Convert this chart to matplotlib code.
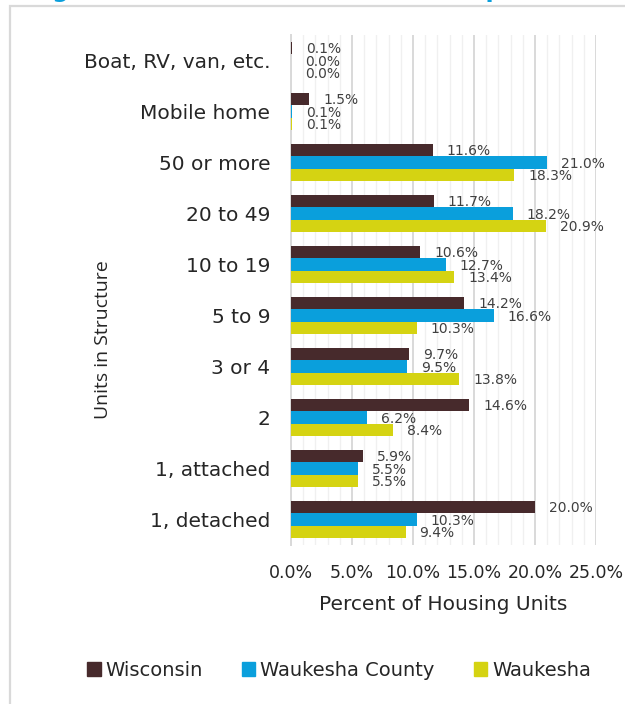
import matplotlib
matplotlib.use("Agg")
import matplotlib.pyplot as plt
from matplotlib.patches import Patch, Rectangle
import numpy as np

plt.rcParams["font.family"] = ["DejaVu Sans"]

categories = ["Boat, RV, van, etc.", "Mobile home", "50 or more", "20 to 49",
              "10 to 19", "5 to 9", "3 or 4", "2", "1, attached", "1, detached"]
wisconsin = [0.1, 1.5, 11.6, 11.7, 10.6, 14.2, 9.7, 14.6, 5.9, 20.0]
county = [0.0, 0.1, 21.0, 18.2, 12.7, 16.6, 9.5, 6.2, 5.5, 10.3]
waukesha = [0.0, 0.1, 18.3, 20.9, 13.4, 10.3, 13.8, 8.4, 5.5, 9.4]
series_names = ["Wisconsin", "Waukesha County", "Waukesha"]
colors = ["#472a2c", "#0a9fdc", "#d5d312"]
xticks = [0, 5, 10, 15, 20, 25]

W, H = 625, 704
fig = plt.figure(figsize=(W / 100, H / 100), dpi=100)

# outer frame of the figure box
fig.patches.append(Rectangle((10 / W, -0.05), 1.2, 1 - 6 / H + 0.05,
                             transform=fig.transFigure, fill=False,
                             edgecolor="#d9d9d9", linewidth=1.6))
fig.text(28 / W, 1 + 3 / H, "Figure 3.6: Units in Structure Comparison",
         color="#0a9fdc", fontsize=17, fontweight="bold", va="baseline")

ax = fig.add_axes([291 / W, 1 - 545 / H, (596 - 291) / W, (545 - 35) / H])

y = np.arange(len(categories))
h = 0.245
for i, (vals, col) in enumerate(zip([wisconsin, county, waukesha], colors)):
    pos = y - h + i * h
    ax.barh(pos, vals, height=h, color=col, zorder=3)
    for p, v in zip(pos, vals):
        ax.annotate(f"{v:.1f}%", (v, p), xytext=(10, -1), textcoords="offset points",
                    ha="left", va="center", fontsize=10, color="#404040", zorder=4)

ax.set_ylim(len(categories) - 0.5, -0.5)
ax.set_xlim(0, 25)
ax.set_yticks(y)
ax.set_yticklabels(categories, fontsize=14.5, color="#262626")
ax.set_xticks(xticks)
ax.set_xticklabels([f"{t:.1f}%" for t in xticks], fontsize=12.5, color="#262626")
ax.set_xticks(np.arange(0, 26, 1), minor=True)
ax.tick_params(axis="both", which="both", length=0)
ax.tick_params(axis="x", pad=14)
ax.tick_params(axis="y", pad=15)
ax.grid(axis="x", which="major", color="#d9d9d9", linewidth=1.4, zorder=0)
ax.grid(axis="x", which="minor", color="#f0f0f0", linewidth=1.0, zorder=0)
for s in ["top", "right", "bottom"]:
    ax.spines[s].set_visible(False)
ax.spines["left"].set_color("#d9d9d9")
ax.spines["left"].set_linewidth(1.4)

ax.set_xlabel("Percent of Housing Units", fontsize=14.5, color="#262626", labelpad=9)
fig.text(103 / W, 1 - 340 / H, "Units in Structure", rotation=90, fontsize=14,
         color="#262626", ha="center", va="center", family="Open Sans")

handles = [Patch(color=c) for c in colors]
fig.legend(handles, series_names, loc="center", bbox_to_anchor=(339 / W, 1 - 670 / H),
           ncol=3, frameon=False, fontsize=14, handlelength=0.7, handleheight=0.7,
           handletextpad=0.25, columnspacing=2.0, labelcolor="#262626")

fig.savefig("out.png", dpi=100)
